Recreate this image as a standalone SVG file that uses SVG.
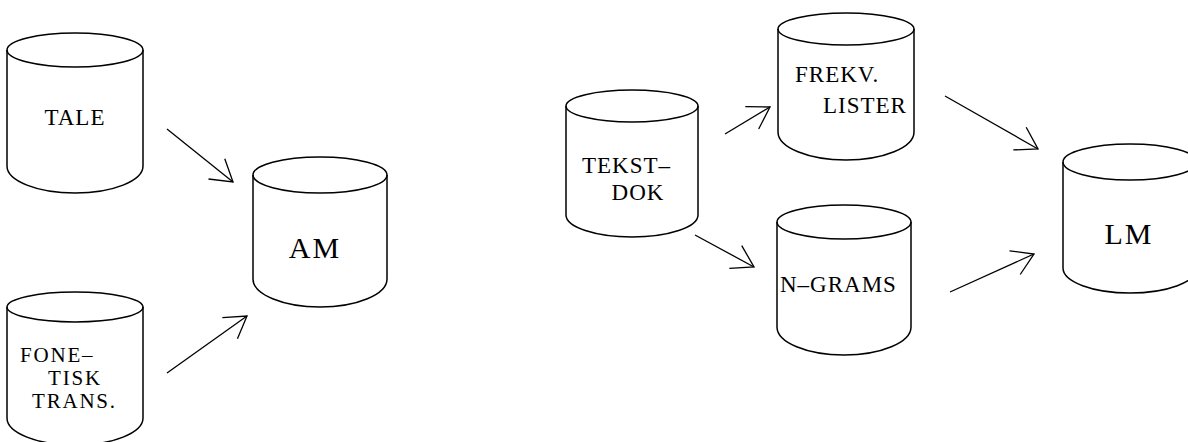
<svg xmlns="http://www.w3.org/2000/svg" width="1188" height="442" viewBox="0 0 1188 442">
<style>
.cyl{fill:none;stroke:#000;stroke-width:1.5}
.lbl{font-family:"Liberation Serif","Times New Roman",serif;font-size:23px;letter-spacing:1px;fill:#000}
.sm{font-size:21px;letter-spacing:1.8px}
.big{font-family:"Liberation Serif","Times New Roman",serif;font-size:30px;letter-spacing:2px;fill:#000}
.arr{fill:none;stroke:#000;stroke-width:1.3;marker-end:url(#head)}
</style>
<defs>
<marker id="head" markerUnits="userSpaceOnUse" markerWidth="30" markerHeight="30" refX="0" refY="0" viewBox="-25 -15 30 30" orient="auto">
<path d="M-21,-13 L0,0 L-21,13" fill="none" stroke="#000" stroke-width="1.3"/>
</marker>
</defs>
<rect width="1188" height="442" fill="#fff"/>
<g id="tale">
<ellipse class="cyl" cx="75" cy="50" rx="68" ry="17"/>
<path class="cyl" d="M7,50 V166 A68,27 0 0 0 143,166 V50"/>
<text class="lbl" x="75" y="125" text-anchor="middle">TALE</text>
</g>
<g id="fonetisk">
<ellipse class="cyl" cx="75" cy="307" rx="68" ry="15"/>
<path class="cyl" d="M7,307 V418 A68,27 0 0 0 143,418 V307"/>
<text class="lbl sm" x="20" y="362">FONE–</text>
<text class="lbl sm" x="75" y="385" text-anchor="middle">TISK</text>
<text class="lbl sm" x="32" y="408">TRANS.</text>
</g>
<g id="am">
<ellipse class="cyl" cx="320" cy="175" rx="67" ry="18"/>
<path class="cyl" d="M253,175 V279 A67,28 0 0 0 387,279 V175"/>
<text class="big" x="315" y="258" text-anchor="middle">AM</text>
</g>
<g id="tekstdok">
<ellipse class="cyl" cx="632" cy="106" rx="66" ry="16"/>
<path class="cyl" d="M566,106 V215 A66,22 0 0 0 698,215 V106"/>
<text class="lbl" x="582" y="173">TEKST–</text>
<text class="lbl" x="638" y="200" text-anchor="middle">DOK</text>
</g>
<g id="frekv">
<ellipse class="cyl" cx="846" cy="29" rx="68" ry="16"/>
<path class="cyl" d="M778,29 V132 A68,28 0 0 0 914,132 V29"/>
<text class="lbl" x="795" y="82">FREKV.</text>
<text class="lbl" x="823" y="113">LISTER</text>
</g>
<g id="ngrams">
<ellipse class="cyl" cx="844" cy="222" rx="67" ry="17"/>
<path class="cyl" d="M777,222 V327 A67,28 0 0 0 911,327 V222"/>
<text class="lbl" x="780" y="292">N–GRAMS</text>
</g>
<g id="lm">
<ellipse class="cyl" cx="1130" cy="162" rx="67" ry="18"/>
<path class="cyl" d="M1063,162 V268 A67,25 0 0 0 1197,268 V162"/>
<text class="big" x="1129" y="244" text-anchor="middle">LM</text>
</g>
<g id="connectors">
<line class="arr" x1="167" y1="129" x2="233" y2="182"/>
<line class="arr" x1="167" y1="373" x2="247" y2="316"/>
<line class="arr" x1="725" y1="134" x2="770" y2="107"/>
<line class="arr" x1="695" y1="235" x2="754" y2="267"/>
<line class="arr" x1="945" y1="96" x2="1038" y2="149"/>
<line class="arr" x1="950" y1="292" x2="1034" y2="254"/>
</g>
</svg>
